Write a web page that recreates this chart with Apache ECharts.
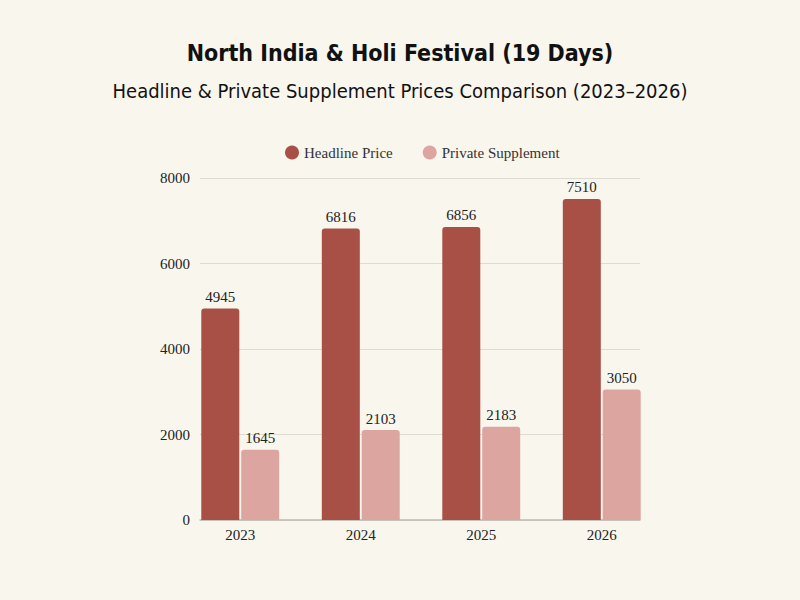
<!DOCTYPE html>
<html>
<head>
<meta charset="utf-8">
<script src="https://cdn.jsdelivr.net/npm/echarts@6/dist/echarts.min.js"></script>
<style>
    html, body { margin: 0; padding: 0; background: #F9F6EE; }
    #chart { width: 800px; height: 600px; }
</style>
</head>
<body>
<div id="chart"></div>
<script>
// Data
var years = ['2023', '2024', '2025', '2026'];
var headlinePrice = [4945, 6816, 6856, 7510];
var privateSupplement = [1645, 2103, 2183, 3050];

var titleFont = '"Liberation Sans Narrow", "DejaVu Sans Condensed", sans-serif';
var bodyFont = '"Liberation Serif", "DejaVu Serif", serif';

var chart = echarts.init(document.getElementById('chart'), null, { renderer: 'svg' });

chart.setOption({
    backgroundColor: '#F9F6EE',
    animation: false,
    textStyle: { fontFamily: bodyFont, color: '#222' },

    title: [{
        text: 'North India & Holi Festival (19 Days)',
        left: 'center',
        top: 36,
        textStyle: { fontFamily: titleFont, fontSize: 23, fontWeight: 'bold', color: '#111' }
    }, {
        text: 'Headline & Private Supplement Prices Comparison (2023\u20132026)',
        left: 'center',
        top: 76,
        textStyle: { fontFamily: titleFont, fontSize: 20, fontWeight: 'normal', color: '#111' }
    }],

    legend: {
        top: 140,
        left: 280,
        icon: 'circle',
        itemWidth: 14,
        itemHeight: 14,
        itemGap: 30,
        textStyle: { fontFamily: bodyFont, fontSize: 15, color: '#333' },
        data: ['Headline Price', 'Private Supplement']
    },

    // grid 0 holds the value gridlines, grid 1 holds the bars
    grid: [
        { left: 200, right: 160, top: 178, bottom: 80 },
        { left: 180, right: 138, top: 178, bottom: 80 }
    ],

    xAxis: [{
        gridIndex: 0,
        type: 'value',
        min: 0,
        max: 1,
        axisLine: { show: true, lineStyle: { color: '#bdbab2', width: 1.5 } },
        axisTick: { show: false },
        axisLabel: { show: false },
        splitLine: { show: false }
    }, {
        gridIndex: 1,
        type: 'category',
        data: years,
        axisLine: { show: false },
        axisTick: { show: false },
        axisLabel: { fontFamily: bodyFont, fontSize: 15, color: '#222', margin: 7 }
    }],

    yAxis: [{
        gridIndex: 0,
        type: 'value',
        min: 0,
        max: 8000,
        interval: 2000,
        axisLine: { show: false },
        axisTick: { show: false },
        axisLabel: {
            fontFamily: bodyFont, fontSize: 15, color: '#222', margin: 10,
            formatter: function(v) { return String(v); }
        },
        splitLine: { lineStyle: { color: '#dedbd2', width: 1 } }
    }, {
        gridIndex: 1,
        type: 'value',
        min: 0,
        max: 8000,
        show: false
    }],

    series: [{
        name: 'Headline Price',
        type: 'bar',
        xAxisIndex: 1,
        yAxisIndex: 1,
        barWidth: 38,
        barGap: '5%',
        itemStyle: { color: '#A85046', borderRadius: [3, 3, 0, 0] },
        label: { show: true, position: 'top', distance: 4, fontFamily: bodyFont, fontSize: 15, color: '#222' },
        data: headlinePrice
    }, {
        name: 'Private Supplement',
        type: 'bar',
        xAxisIndex: 1,
        yAxisIndex: 1,
        barWidth: 38,
        barGap: '5%',
        itemStyle: { color: '#DCA5A0', borderRadius: [3, 3, 0, 0] },
        label: { show: true, position: 'top', distance: 4, fontFamily: bodyFont, fontSize: 15, color: '#222' },
        data: privateSupplement
    }]
});
</script>
</body>
</html>
